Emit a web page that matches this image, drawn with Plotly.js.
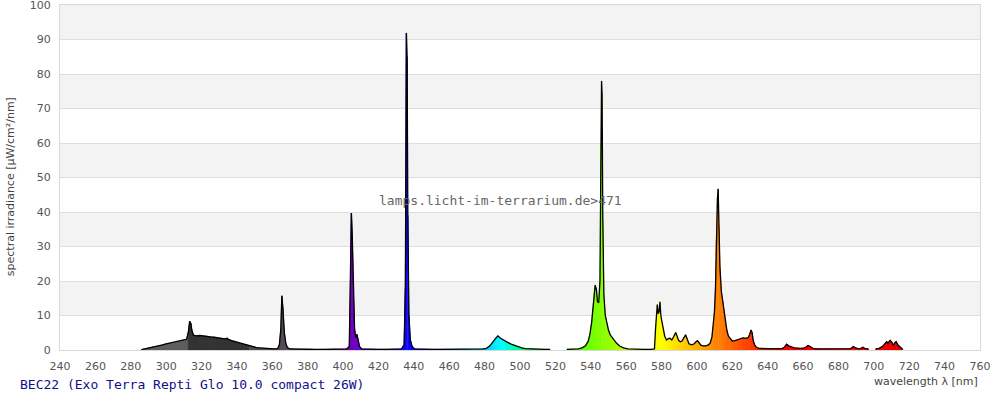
<!DOCTYPE html>
<html>
<head>
<meta charset="utf-8">
<script src="https://cdn.plot.ly/plotly-3.0.1.min.js"></script>
<style>html,body{margin:0;padding:0;background:#fff}#chart{width:1000px;height:400px}</style>
</head>
<body>
<div id="chart"></div>
<script>
// ---- data ----
var chartTitle = "BEC22 (Exo Terra Repti Glo 10.0 compact 26W)";
var watermark = "lamps.licht-im-terrarium.de>471";
var xTitle = "wavelength \u03bb [nm]";
var yTitle = "spectral irradiance [\u00b5W/cm\u00b2/nm]";

var wavelength = [
 286,288,290,292,294,296,298,300,302,304,306,308,310,311.5,312.5,313.3,314,314.6,315.5,317,319,321,323,325,327,329,331,333,334.5,335.5,337,339,341,343,345,347,349,351,353,355,357,359,361,363,
 364,364.8,365.4,366,366.8,367.6,368.5,370,375,380,385,390,395,400,402,403.5,404.2,404.7,405.2,405.8,406.5,407.2,407.8,408.5,409.3,410.5,415,420,425,430,433,
 434.5,435.2,435.8,436.2,436.6,437.2,438,439,440.5,445,450,455,460,465,470,475,479,481,483,485,486.5,487.5,489,491,493,495,497,499,501,503,506,510,514,517,
 null,
 526.5,530,533,535,537,538.5,539.5,540.5,541.3,542,542.5,543.2,543.8,544.5,545.2,545.8,546.1,546.4,546.8,547.4,548.2,549,550,551,552,553,554.5,556.5,558.5,561,565,570,574,
 576,576.6,577.2,577.6,578.1,578.6,579.1,579.6,580.3,581,581.8,582.8,583.8,584.8,585.8,587,588,588.8,589.6,590.6,591.6,592.6,593.6,594.5,595.5,597,598.5,599.5,600.3,601.2,602.2,603.5,605,606.5,607.5,608.5,
 609.3,609.9,610.5,611,611.6,612,612.4,613,613.8,614.6,615.4,616.2,617,617.8,618.8,620,621.5,623,624.5,626,627.5,629,629.8,630.6,631.2,631.8,632.6,633.6,635,637,640,643,646,648,
 649.5,650.7,651.8,653,655,658,660,661.5,662.8,664,665.5,668,672,676,680,684,687,688.4,689.6,691,692.5,693.8,695,697,
 null,
 701,703,705,706.5,707.3,708,709.2,710.2,711,712,712.6,713.5,714.8,716.3
];
var irradiance = [
 0.1,0.3,0.6,0.8,1.0,1.2,1.5,1.8,2.0,2.2,2.5,2.7,3.0,3.1,5.0,8.3,7.6,5.5,4.3,4.1,4.2,4.0,4.0,3.8,3.7,3.5,3.4,3.2,3.4,3.0,2.7,2.4,2.0,1.7,1.5,1.3,1.0,0.7,0.6,0.5,0.4,0.3,0.3,0.4,
 1.5,6,15.7,12,5,2,0.7,0.3,0.2,0.2,0.15,0.2,0.2,0.2,0.3,1,20,39.7,33,17,6,3.5,4.5,3,1,0.3,0.2,0.2,0.2,0.2,0.3,
 1.5,18,91.9,85,39,10,3,1,0.3,0.2,0.2,0.2,0.2,0.2,0.2,0.2,0.3,0.5,1.2,2.6,3.7,4.1,3.4,2.7,2.2,1.7,1.3,0.9,0.6,0.4,0.3,0.2,0.2,0.2,
 null,
 0.2,0.2,0.3,0.6,1.2,2.5,4.5,8,12.5,17,18.8,17.5,14,13.7,20,60,78,74,38,16,10,7.7,5.8,4.4,3.6,2.8,2.0,1.1,0.6,0.3,0.2,0.2,0.2,
 0.3,6,11,13.2,10.5,11,14,10,8,5.8,4.0,2.9,3.3,3.4,2.9,4,5.1,4,2.8,2.4,2.6,3.5,4.4,3.2,1.8,1.5,1.8,2.4,2.7,2.1,1.4,1.2,1.2,1.5,2,3.8,
 7,11,18,32,44,46.7,36,24,17,14,11,7.5,5.5,4,3.3,2.6,2.7,2.9,3.2,3.5,3.4,3.6,4.5,5.8,5,2.8,1.5,0.8,0.5,0.4,0.4,0.4,0.4,0.4,
 0.8,1.7,1.2,0.9,0.6,0.5,0.5,0.8,1.3,1.0,0.5,0.3,0.3,0.3,0.3,0.3,0.4,1.0,0.6,0.4,0.4,0.8,0.4,0.3,
 null,
 0.3,0.5,1.1,2.0,2.4,2.0,2.8,2.2,1.4,2.2,2.4,1.5,0.9,0.2
];
var xTicks = [240,260,280,300,320,340,360,380,400,420,440,460,480,500,520,540,560,580,600,620,640,660,680,700,720,740,760];
var yTicks = [0,10,20,30,40,50,60,70,80,90,100];

// ---- styling helpers ----
function hex2(v){ v = Math.max(0, Math.min(255, Math.round(v))); return (v<16?'0':'') + v.toString(16); }
function spectralColor(w){
  if (w < 313) return '#5e5e5e';
  if (w < 348) return '#343434';
  if (w < 380) return '#554b58';
  var r=0,g=0,b=0;
  if (w < 440){ r = -(w-440)/60; b = 1; }
  else if (w < 490){ g = (w-440)/50; b = 1; }
  else if (w < 510){ g = 1; b = -(w-510)/20; }
  else if (w < 580){ r = (w-510)/70; g = 1; }
  else if (w < 645){ r = 1; g = -(w-645)/65; }
  else { r = 1; }
  var f = 1;
  if (w < 420) f = 0.3 + 0.7*(w-380)/40;
  else if (w > 700) f = 0.3 + 0.7*(780-w)/80;
  return '#' + hex2(r*f*255) + hex2(g*f*255) + hex2(b*f*255);
}

// ---- coloured fill under the curve, one polygon per data segment ----
var groups = {}, order = [];
for (var i = 0; i < wavelength.length - 1; i++){
  var x0 = wavelength[i], x1 = wavelength[i+1], y0 = irradiance[i], y1 = irradiance[i+1];
  if (x0 === null || x1 === null) continue;
  var col = spectralColor(Math.round((x0+x1)/2));
  if (!groups[col]){ groups[col] = {x:[], y:[]}; order.push(col); }
  var g = groups[col];
  g.x.push(x0, x0, x1, x1, x0, null);
  g.y.push(0, y0, y1, 0, 0, null);
}
var traces = [];
order.forEach(function(col){
  traces.push({
    type:'scatter', mode:'lines', x: groups[col].x, y: groups[col].y,
    fill:'toself', fillcolor: col, line:{color: col, width: 0.8},
    hoverinfo:'skip', showlegend:false, connectgaps:false
  });
});
traces.push({
  type:'scatter', mode:'lines', x: wavelength, y: irradiance,
  line:{color:'#000', width:1.3}, connectgaps:false, showlegend:false, hoverinfo:'x+y'
});

// alternating horizontal bands
var shapes = [];
for (var k = 1; k < yTicks.length - 1; k += 2){
  shapes.push({type:'rect', xref:'paper', yref:'y', x0:0, x1:1, y0:yTicks[k], y1:yTicks[k+1],
    fillcolor:'#f3f3f3', line:{width:0}, layer:'below'});
}

var tickFont = {family:'DejaVu Sans, Verdana, sans-serif', size:11, color:'#555'};
var layout = {
  width:1000, height:400,
  margin:{l:60, r:20, t:5, b:50, pad:0},
  paper_bgcolor:'#fff', plot_bgcolor:'#fff',
  showlegend:false,
  xaxis:{range:[240,760], tickvals:xTicks, ticktext:xTicks.map(String), showgrid:false, zeroline:false,
    showline:true, linecolor:'#d8d8d8', linewidth:1, mirror:true, ticks:'', tickfont:tickFont, fixedrange:true,
    ticklabelstandoff:6, ticklabeloverflow:'allow'},
  yaxis:{range:[0,100], tickvals:yTicks, ticktext:yTicks.map(String), showgrid:true, gridcolor:'#dedede', gridwidth:1,
    zeroline:false, showline:true, linecolor:'#d8d8d8', linewidth:1, mirror:true, ticks:'', tickfont:tickFont, fixedrange:true,
    ticklabelstandoff:6, ticklabeloverflow:'allow'},
  shapes: shapes,
  annotations:[
    {text:yTitle, xref:'paper', yref:'paper', x:-0.0543, y:0.472, xanchor:'center', yanchor:'middle', textangle:-90,
      showarrow:false, font:{family:'DejaVu Sans, Verdana, sans-serif', size:11, color:'#444'}},
    {text:xTitle, xref:'paper', yref:'paper', x:1, y:-0.0899, xanchor:'right', yanchor:'middle',
      showarrow:false, font:{family:'DejaVu Sans, Verdana, sans-serif', size:11, color:'#444'}},
    {text:chartTitle, xref:'paper', yref:'paper', x:-0.0457, y:-0.1014, xanchor:'left', yanchor:'middle',
      showarrow:false, font:{family:'DejaVu Sans Mono, Liberation Mono, monospace', size:13, color:'#10108a'}},
    {text:watermark, xref:'paper', yref:'paper', x:0.479, y:0.432, xanchor:'center', yanchor:'middle',
      showarrow:false, font:{family:'DejaVu Sans Mono, Liberation Mono, monospace', size:13, color:'#666'}}
  ]
};
Plotly.newPlot('chart', traces, layout, {displayModeBar:false, staticPlot:true});
</script>
</body>
</html>
